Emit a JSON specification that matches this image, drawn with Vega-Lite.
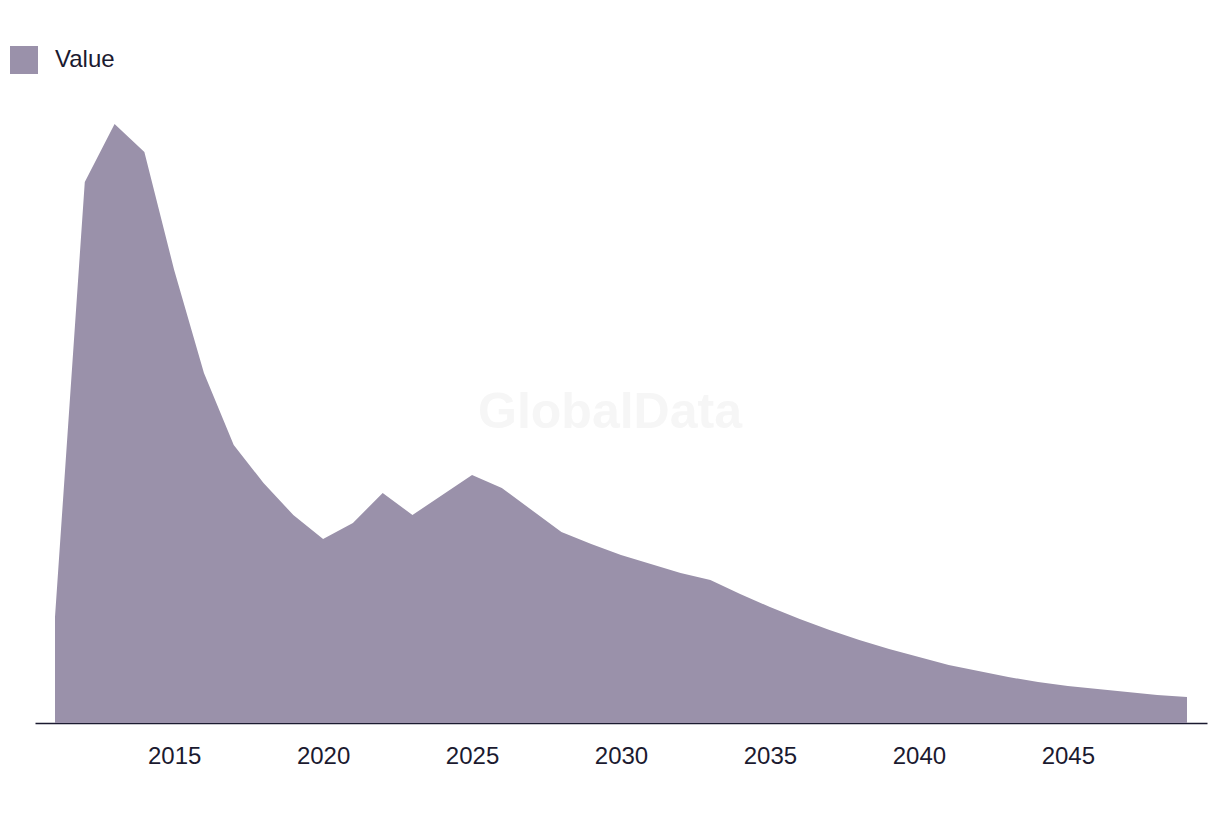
{
  "$schema": "https://vega.github.io/schema/vega-lite/v6.json",
  "width": 1172,
  "height": 623,
  "autosize": {"type": "none"},
  "padding": {"left": 35, "top": 100, "right": 13, "bottom": 91},
  "background": "#ffffff",
  "config": {
    "view": {"stroke": null},
    "font": "Liberation Sans"
  },
  "title": {
    "text": "GlobalData",
    "orient": "bottom",
    "anchor": "middle",
    "frame": "group",
    "fontSize": 50,
    "fontWeight": "bold",
    "color": "#f6f6f6",
    "font": "Liberation Sans",
    "offset": 0,
    "dx": -11,
    "dy": -380
  },
  "data": {
    "values": [
      {"year": 2011, "value": 106, "series": "Value"},
      {"year": 2012, "value": 541, "series": "Value"},
      {"year": 2013, "value": 599, "series": "Value"},
      {"year": 2014, "value": 571, "series": "Value"},
      {"year": 2015, "value": 453, "series": "Value"},
      {"year": 2016, "value": 350, "series": "Value"},
      {"year": 2017, "value": 278, "series": "Value"},
      {"year": 2018, "value": 240, "series": "Value"},
      {"year": 2019, "value": 208, "series": "Value"},
      {"year": 2020, "value": 184, "series": "Value"},
      {"year": 2021, "value": 200, "series": "Value"},
      {"year": 2022, "value": 230, "series": "Value"},
      {"year": 2023, "value": 208, "series": "Value"},
      {"year": 2024, "value": 228, "series": "Value"},
      {"year": 2025, "value": 248, "series": "Value"},
      {"year": 2026, "value": 235, "series": "Value"},
      {"year": 2027, "value": 213, "series": "Value"},
      {"year": 2028, "value": 191, "series": "Value"},
      {"year": 2029, "value": 179, "series": "Value"},
      {"year": 2030, "value": 168, "series": "Value"},
      {"year": 2031, "value": 159, "series": "Value"},
      {"year": 2032, "value": 150, "series": "Value"},
      {"year": 2033, "value": 143, "series": "Value"},
      {"year": 2034, "value": 129, "series": "Value"},
      {"year": 2035, "value": 116, "series": "Value"},
      {"year": 2036, "value": 104, "series": "Value"},
      {"year": 2037, "value": 93, "series": "Value"},
      {"year": 2038, "value": 83, "series": "Value"},
      {"year": 2039, "value": 74, "series": "Value"},
      {"year": 2040, "value": 66, "series": "Value"},
      {"year": 2041, "value": 58, "series": "Value"},
      {"year": 2042, "value": 52, "series": "Value"},
      {"year": 2043, "value": 46, "series": "Value"},
      {"year": 2044, "value": 41, "series": "Value"},
      {"year": 2045, "value": 37, "series": "Value"},
      {"year": 2046, "value": 34, "series": "Value"},
      {"year": 2047, "value": 31, "series": "Value"},
      {"year": 2048, "value": 28, "series": "Value"},
      {"year": 2049, "value": 26, "series": "Value"}
    ]
  },
  "mark": {"type": "area", "interpolate": "linear", "opacity": 1},
  "encoding": {
    "x": {
      "field": "year",
      "type": "quantitative",
      "scale": {"domain": [2011, 2049], "padding": 20, "nice": false, "zero": false},
      "axis": {
        "values": [2015, 2020, 2025, 2030, 2035, 2040, 2045],
        "format": "d",
        "title": null,
        "grid": false,
        "ticks": false,
        "domain": true,
        "domainColor": "#1b1a30",
        "domainWidth": 1.6,
        "labelFontSize": 24,
        "labelColor": "#1b1a30",
        "labelPadding": 21,
        "labelFont": "Liberation Sans"
      }
    },
    "y": {
      "field": "value",
      "type": "quantitative",
      "stack": null,
      "scale": {"domain": [0, 623], "nice": false},
      "axis": null
    },
    "color": {
      "field": "series",
      "type": "nominal",
      "scale": {"range": ["#9a91aa"]},
      "legend": {
        "title": null,
        "orient": "none",
        "legendX": -25,
        "legendY": -54,
        "symbolType": "square",
        "symbolSize": 784,
        "symbolStrokeWidth": 0,
        "labelFontSize": 24,
        "labelColor": "#1b1a30",
        "labelOffset": 17,
        "labelFont": "Liberation Sans"
      }
    }
  }
}
